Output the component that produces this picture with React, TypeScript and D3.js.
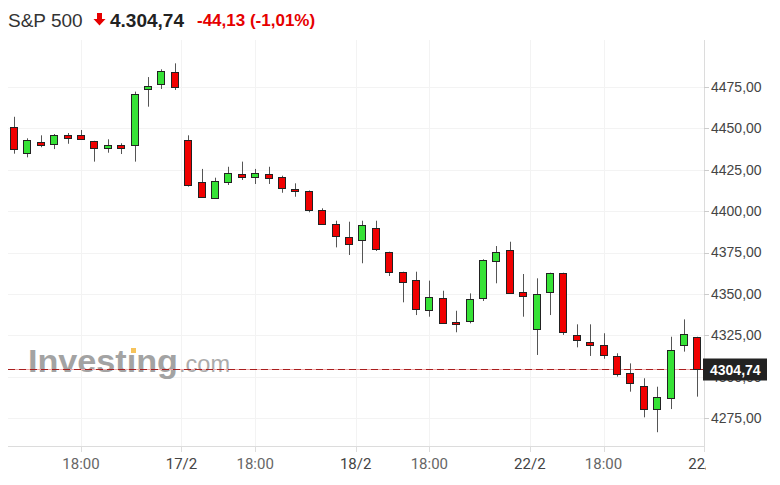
import React from "react";
import * as d3 from "d3";

const opens = [4450.6, 4435.3, 4441.6, 4440.4, 4446, 4446, 4442.2, 4438.1, 4440, 4439.8, 4473.6, 4476.6, 4483.9, 4443, 4417.4, 4408.1, 4417.4, 4422.6, 4420.8, 4422.6, 4420.4, 4413.4, 4412, 4400.7, 4392.2, 4384.5, 4382.6, 4390, 4375.5, 4363, 4358.4, 4340.3, 4347.7, 4333.2, 4333.6, 4347.7, 4370, 4376.5, 4351, 4328.8, 4351.3, 4362.8, 4325, 4320.7, 4319.1, 4312.5, 4302.4, 4294.5, 4280.4, 4287.3, 4319.1, 4324.1];
const highs = [4457, 4444, 4445.8, 4446.6, 4447.2, 4449, 4442.5, 4443.4, 4441, 4472.2, 4481, 4485.7, 4489.3, 4445.8, 4425.5, 4420.2, 4426.8, 4429.9, 4425.5, 4426.8, 4421.4, 4416.8, 4412.5, 4401.7, 4394.2, 4393.6, 4394.2, 4394.2, 4375.5, 4363.4, 4363.4, 4358, 4351.9, 4339.8, 4350.3, 4370.9, 4378.9, 4381.5, 4362, 4359.4, 4362.8, 4362.8, 4331.6, 4331.6, 4326.2, 4314.1, 4308, 4299, 4293.9, 4324.1, 4334.6, 4324.1];
const lows = [4434.7, 4432.5, 4438.6, 4437.5, 4440.7, 4443, 4429.9, 4435.3, 4434.5, 4429.9, 4463.1, 4473.8, 4473.2, 4414.8, 4408.7, 4408, 4415.8, 4418.8, 4416.4, 4416.4, 4411.1, 4408.7, 4399.3, 4392.2, 4378.1, 4373.5, 4368.5, 4375.9, 4360.8, 4344.9, 4337.2, 4336.2, 4332.6, 4326.8, 4332.2, 4345.7, 4356.4, 4350.7, 4336.2, 4313.1, 4337.2, 4325.2, 4317.7, 4312.5, 4310.8, 4300, 4290.9, 4275.4, 4266.4, 4280.4, 4315.1, 4287.9];
const closes = [4437.5, 4442.8, 4439.8, 4446, 4444.4, 4443.4, 4438.3, 4440, 4438.1, 4470.8, 4475.4, 4484.5, 4475.2, 4415.8, 4408.7, 4418, 4423.2, 4420.8, 4423.2, 4419.8, 4414.2, 4412, 4400.7, 4392.2, 4385.2, 4380.1, 4391.6, 4377.1, 4363, 4357.4, 4340.9, 4348.3, 4332.6, 4331.8, 4346.9, 4370.5, 4375.1, 4350.7, 4348.5, 4349.9, 4362.8, 4327.1, 4322.1, 4318.9, 4312.9, 4301.6, 4296.3, 4280.4, 4287.9, 4316.1, 4325.9, 4304.74];

const yTicks = [4275, 4300, 4325, 4350, 4375, 4400, 4425, 4450, 4475];
const xTickPos = [5, 12.5, 18, 25.5, 31, 38.5, 44, 51.5];
const xTickLabels = ["18:00", "17/2", "18:00", "18/2", "18:00", "22/2", "18:00", "22/2"];

const lastPrice = 4304.74;
const lastLabel = "4304,74";
const title = "S&P 500";
const priceText = "4.304,74";
const changeText = "-44,13 (-1,01%)";

const fmt = (v: number) => v.toFixed(2).replace(".", ",");

export default function App() {
  const n = opens.length;
  const x = d3.scaleLinear().domain([-0.5, n - 0.5]).range([7.3, 704]);
  const y = d3.scaleLinear().domain([4275, 4475]).range([418, 87]);
  const plotLeft = 8;
  const plotRight = 704;
  const plotTop = 40;
  const plotBottom = 446;
  const green = "#36e236";
  const red = "#f00000";
  const lastY = Math.round(y(lastPrice)) + 0.5;

  return (
    <svg
      width={780}
      height={485}
      style={{ position: "fixed", left: 0, top: 0, background: "#fff" }}
      fontFamily="'Liberation Sans', Arial, sans-serif"
    >
      <defs>
        <clipPath id="xclip">
          <rect x={0} y={440} width={706} height={45} />
        </clipPath>
      </defs>
      {/* header */}
      <text x={8} y={27} fontSize={19} fill="#333">{title}</text>
      <path d="M97,13 h5 v6 h3.5 l-6,6.5 l-6,-6.5 h3.5 z" fill="#e60000" />
      <text x={110} y={27} fontSize={19} fontWeight="bold" fill="#222">{priceText}</text>
      <text x={197} y={26} fontSize={17} fontWeight="bold" fill="#e60000">{changeText}</text>

      {/* grid */}
      {yTicks.map((t) => (
        <line key={"gy" + t} x1={plotLeft} x2={plotRight} y1={Math.round(y(t)) + 0.5} y2={Math.round(y(t)) + 0.5} stroke="#f3f3f3" />
      ))}
      {xTickPos.map((t, i) => (
        <line key={"gx" + i} x1={Math.round(x(t)) + 0.5} x2={Math.round(x(t)) + 0.5} y1={plotTop} y2={plotBottom} stroke="#f3f3f3" />
      ))}

      {/* watermark */}
      <g opacity={0.9}>
        <text x={28} y={372} fontSize={31} fontWeight="bold" fill="#9a9a9a" textLength={150} lengthAdjust="spacingAndGlyphs">Investıng</text>
        <rect x={131} y={348} width={5} height={5} fill="#f6bd4a" />
        <text x={179} y={372} fontSize={23} fill="#a3a3a3" textLength={51} lengthAdjust="spacingAndGlyphs">.com</text>
      </g>

      {/* last price line */}
      <line x1={plotLeft} x2={plotRight} y1={lastY} y2={lastY} stroke="#f2a8a8" strokeWidth={1} />
      <line x1={plotLeft} x2={plotRight} y1={lastY} y2={lastY} stroke="#a81e1e" strokeWidth={1} strokeDasharray="7,4" />

      {/* candles */}
      {opens.map((o, i) => {
        const c = closes[i];
        const cx = Math.round(x(i));
        const up = c >= o;
        const top = y(Math.max(o, c));
        const bot = y(Math.min(o, c));
        return (
          <g key={i}>
            <line x1={cx + 0.5} x2={cx + 0.5} y1={y(highs[i])} y2={y(lows[i])} stroke="#555" strokeWidth={1} />
            <rect
              x={cx - 4 + 0.5}
              y={Math.round(top) + 0.5}
              width={7}
              height={Math.max(2, Math.round(bot) - Math.round(top))}
              fill={up ? green : red}
              stroke="#222"
              strokeWidth={1}
            />
          </g>
        );
      })}

      {/* axes */}
      <line x1={plotRight + 0.5} x2={plotRight + 0.5} y1={plotTop} y2={plotBottom} stroke="#dcdcdc" />
      <line x1={plotLeft} x2={plotRight} y1={plotBottom + 0.5} y2={plotBottom + 0.5} stroke="#dcdcdc" />
      {yTicks.map((t) => (
        <g key={"yt" + t}>
          <line x1={plotRight} x2={plotRight + 5} y1={Math.round(y(t)) + 0.5} y2={Math.round(y(t)) + 0.5} stroke="#ccc" />
          <text x={711} y={y(t)} dy="0.35em" fontSize={14} fill="#444">{fmt(t)}</text>
        </g>
      ))}
      <g clipPath="url(#xclip)">
        {xTickPos.map((t, i) => (
          <g key={"xt" + i}>
            <line x1={Math.round(x(t)) + 0.5} x2={Math.round(x(t)) + 0.5} y1={plotBottom} y2={plotBottom + 6} stroke="#ddd" />
            <text x={x(t)} y={469} textAnchor="middle" fontSize={15} fontFamily="Roboto, sans-serif" fill={xTickLabels[i].includes("/") ? "#444" : "#666"}>
              {xTickLabels[i]}
            </text>
          </g>
        ))}
      </g>

      {/* last price box */}
      <rect x={703} y={lastY - 11} width={64} height={22} fill="#222" />
      <text x={710} y={lastY} dy="0.36em" fontSize={14} fontWeight="bold" fill="#fff">{lastLabel}</text>
    </svg>
  );
}
